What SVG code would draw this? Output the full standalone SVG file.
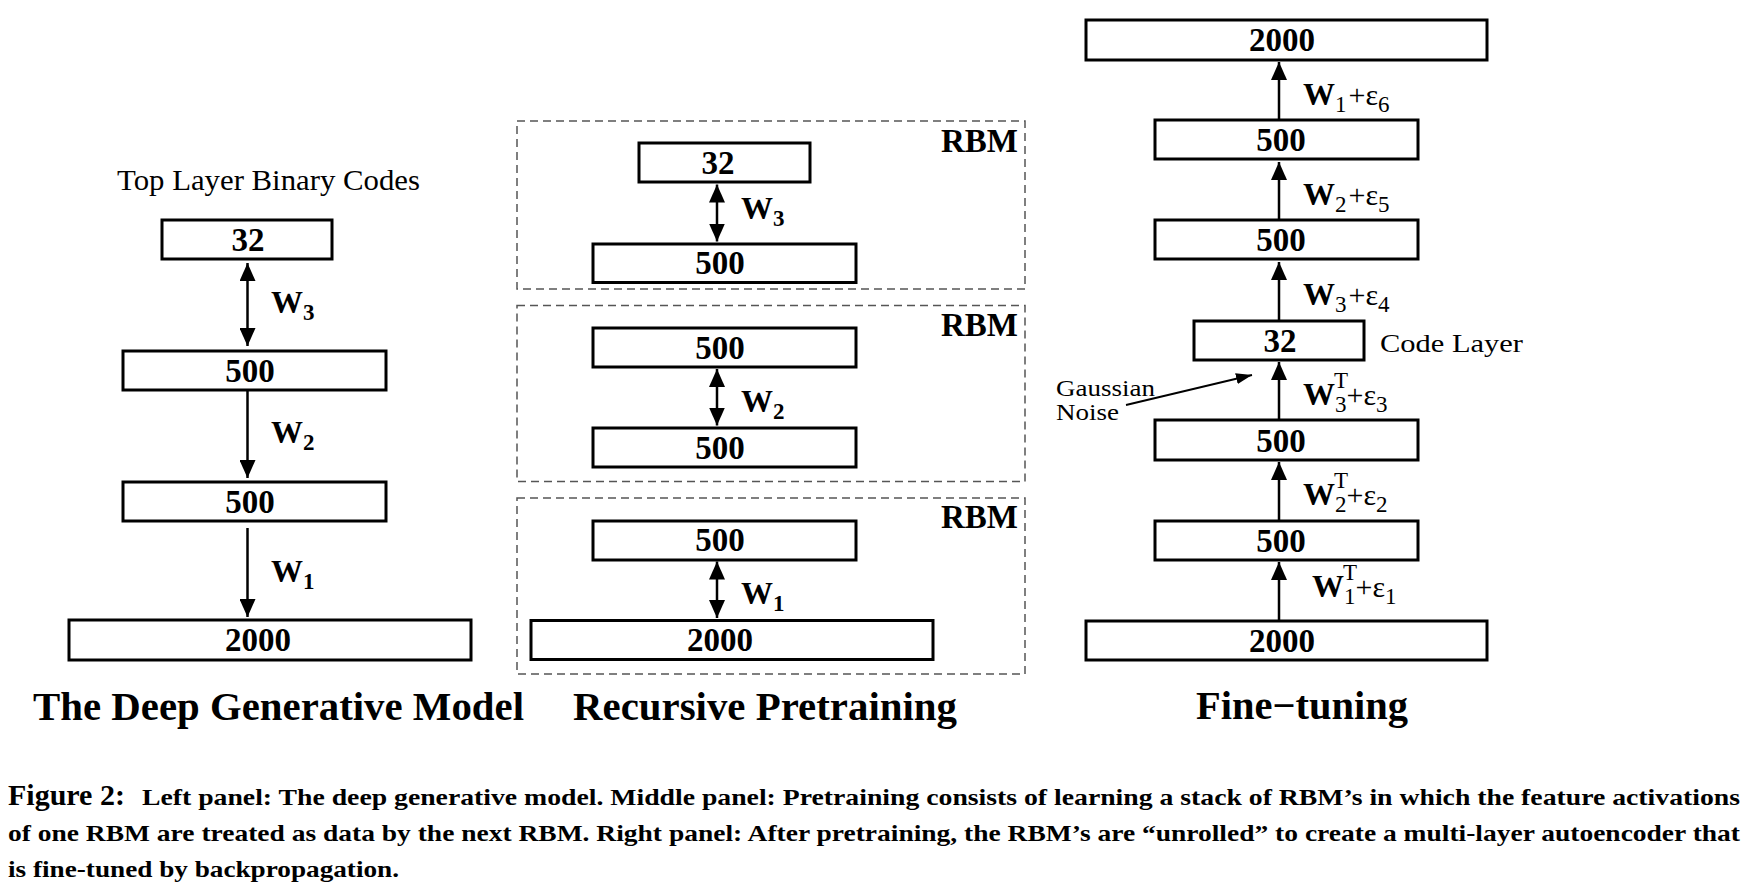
<svg xmlns="http://www.w3.org/2000/svg" width="1750" height="890" viewBox="0 0 1750 890">
  <style>
    text { font-family: "Liberation Serif", "Times New Roman", serif; fill: #000; }
    .layer { fill: #fff; stroke: #000; stroke-width: 3; }
    .num { font-size: 33px; font-weight: bold; text-anchor: middle; }
    .w { font-size: 32px; font-weight: bold; }
    .sub { font-size: 23px; }
    .eps { font-size: 30px; font-weight: normal; }
    .rbm { font-size: 33px; font-weight: bold; }
    .frame { fill: none; stroke: #555; stroke-width: 1.5; stroke-dasharray: 8 5; }
    .title { font-size: 40px; font-weight: bold; }
    .note { font-size: 29px; }
    .edge { stroke: #000; stroke-width: 2.5; fill: none; }
    .thin { stroke: #000; stroke-width: 1.8; fill: none; }
    .cap { font-size: 24px; font-weight: bold; }
  </style>
  <defs>
    <marker id="head" viewBox="0 0 18 16" refX="18" refY="8" markerWidth="18" markerHeight="16" markerUnits="userSpaceOnUse" orient="auto-start-reverse">
      <path d="M0,0 L18,8 L0,16 z" fill="#000"/>
    </marker>
    <marker id="headSmall" viewBox="0 0 16 11" refX="16" refY="5.5" markerWidth="16" markerHeight="11" markerUnits="userSpaceOnUse" orient="auto">
      <path d="M0,0 L16,5.5 L0,11 z" fill="#000"/>
    </marker>
  </defs>

  <!-- Left panel: the deep generative model -->
  <g id="left-panel">
    <text class="note" x="117" y="190" textLength="303" lengthAdjust="spacingAndGlyphs">Top Layer Binary Codes</text>
    <g id="gen-32"><rect class="layer" x="162" y="220" width="170" height="39"/><text class="num" x="248" y="251">32</text></g>
    <g id="gen-500a"><rect class="layer" x="123" y="351" width="263" height="39"/><text class="num" x="250" y="382">500</text></g>
    <g id="gen-500b"><rect class="layer" x="123" y="482" width="263" height="39"/><text class="num" x="250" y="513">500</text></g>
    <g id="gen-2000"><rect class="layer" x="69" y="620" width="402" height="40"/><text class="num" x="258" y="651">2000</text></g>
    <text class="w" x="271" y="313">W<tspan class="sub" font-weight="bold" dy="7">3</tspan></text>
    <text class="w" x="271" y="443">W<tspan class="sub" font-weight="bold" dy="7">2</tspan></text>
    <text class="w" x="271" y="582">W<tspan class="sub" font-weight="bold" dy="7">1</tspan></text>
    <text class="title" x="33" y="720" textLength="491" lengthAdjust="spacingAndGlyphs">The Deep Generative Model</text>
  </g>

  <!-- Middle panel: stacked RBMs -->
  <g id="middle-panel">
    <g id="rbm-3">
      <rect class="frame" x="517" y="121" width="508" height="168"/>
      <text class="rbm" x="941" y="152" textLength="77" lengthAdjust="spacingAndGlyphs">RBM</text>
    </g>
    <g id="rbm-2">
      <rect class="frame" x="517" y="305.5" width="508" height="176"/>
      <text class="rbm" x="941" y="336" textLength="77" lengthAdjust="spacingAndGlyphs">RBM</text>
    </g>
    <g id="rbm-1">
      <rect class="frame" x="517" y="498" width="508" height="176"/>
      <text class="rbm" x="941" y="528" textLength="77" lengthAdjust="spacingAndGlyphs">RBM</text>
    </g>
    <g id="pre-32"><rect class="layer" x="639" y="143" width="171" height="39"/><text class="num" x="718" y="174">32</text></g>
    <g id="pre-500d"><rect class="layer" x="593" y="244" width="263" height="38.5"/><text class="num" x="720" y="274">500</text></g>
    <g id="pre-500c"><rect class="layer" x="593" y="328" width="263" height="39"/><text class="num" x="720" y="359">500</text></g>
    <g id="pre-500b"><rect class="layer" x="593" y="428" width="263" height="39"/><text class="num" x="720" y="459">500</text></g>
    <g id="pre-500a"><rect class="layer" x="593" y="521" width="263" height="39"/><text class="num" x="720" y="551">500</text></g>
    <g id="pre-2000"><rect class="layer" x="531" y="620.5" width="402" height="39"/><text class="num" x="720" y="651">2000</text></g>
    <text class="w" x="741" y="219">W<tspan class="sub" font-weight="bold" dy="7">3</tspan></text>
    <text class="w" x="741" y="412">W<tspan class="sub" font-weight="bold" dy="7">2</tspan></text>
    <text class="w" x="741" y="604">W<tspan class="sub" font-weight="bold" dy="7">1</tspan></text>
    <text class="title" x="573" y="720" textLength="384" lengthAdjust="spacingAndGlyphs">Recursive Pretraining</text>
  </g>

  <!-- Right panel: unrolled autoencoder -->
  <g id="right-panel">
    <g id="ft-2000-out"><rect class="layer" x="1086" y="20" width="401" height="40"/><text class="num" x="1282" y="51">2000</text></g>
    <g id="ft-500d"><rect class="layer" x="1155" y="120" width="263" height="39"/><text class="num" x="1281" y="151">500</text></g>
    <g id="ft-500c"><rect class="layer" x="1155" y="220" width="263" height="39"/><text class="num" x="1281" y="251">500</text></g>
    <g id="ft-32"><rect class="layer" x="1194" y="321" width="170" height="39"/><text class="num" x="1280" y="352">32</text></g>
    <g id="ft-500b"><rect class="layer" x="1155" y="420" width="263" height="40"/><text class="num" x="1281" y="452">500</text></g>
    <g id="ft-500a"><rect class="layer" x="1155" y="521" width="263" height="39"/><text class="num" x="1281" y="552">500</text></g>
    <g id="ft-2000-in"><rect class="layer" x="1086" y="621" width="401" height="39"/><text class="num" x="1282" y="652">2000</text></g>

    <text class="w" x="1303" y="105">W<tspan class="sub" font-weight="normal" dy="7">1</tspan><tspan class="eps" dx="2" dy="-7">+ε</tspan><tspan class="sub" font-weight="normal" dy="7">6</tspan></text>
    <text class="w" x="1303" y="205">W<tspan class="sub" font-weight="normal" dy="7">2</tspan><tspan class="eps" dx="2" dy="-7">+ε</tspan><tspan class="sub" font-weight="normal" dy="7">5</tspan></text>
    <text class="w" x="1303" y="305">W<tspan class="sub" font-weight="normal" dy="7">3</tspan><tspan class="eps" dx="2" dy="-7">+ε</tspan><tspan class="sub" font-weight="normal" dy="7">4</tspan></text>

    <text class="w" x="1303" y="405">W<tspan class="sub" font-weight="normal" dy="7">3</tspan><tspan class="eps" dy="-7">+ε</tspan><tspan class="sub" font-weight="normal" dy="7">3</tspan></text>
    <text class="sub" x="1334" y="388">T</text>
    <text class="w" x="1303" y="505">W<tspan class="sub" font-weight="normal" dy="7">2</tspan><tspan class="eps" dy="-7">+ε</tspan><tspan class="sub" font-weight="normal" dy="7">2</tspan></text>
    <text class="sub" x="1334" y="488">T</text>
    <text class="w" x="1312" y="597">W<tspan class="sub" font-weight="normal" dy="7">1</tspan><tspan class="eps" dy="-7">+ε</tspan><tspan class="sub" font-weight="normal" dy="7">1</tspan></text>
    <text class="sub" x="1343" y="580">T</text>

    <text x="1380" y="352" font-size="26" textLength="143" lengthAdjust="spacingAndGlyphs">Code Layer</text>
    <text x="1056" y="396" font-size="24" textLength="99" lengthAdjust="spacingAndGlyphs">Gaussian</text>
    <text x="1056" y="420" font-size="24" textLength="63" lengthAdjust="spacingAndGlyphs">Noise</text>
    <text class="title" x="1196" y="719" textLength="212" lengthAdjust="spacingAndGlyphs">Fine−tuning</text>
  </g>

  <!-- Connectors -->
  <g id="connectors">
    <line class="edge" x1="247.5" y1="263" x2="247.5" y2="346" marker-start="url(#head)" marker-end="url(#head)"/>
    <line class="edge" x1="247.5" y1="390" x2="247.5" y2="478" marker-end="url(#head)"/>
    <line class="edge" x1="247.5" y1="528" x2="247.5" y2="617" marker-end="url(#head)"/>

    <line class="edge" x1="717" y1="184.5" x2="717" y2="241.5" marker-start="url(#head)" marker-end="url(#head)"/>
    <line class="edge" x1="717" y1="369" x2="717" y2="425.5" marker-start="url(#head)" marker-end="url(#head)"/>
    <line class="edge" x1="717" y1="561.5" x2="717" y2="618" marker-start="url(#head)" marker-end="url(#head)"/>

    <line class="edge" x1="1279" y1="120" x2="1279" y2="62" marker-end="url(#head)"/>
    <line class="edge" x1="1279" y1="220" x2="1279" y2="162" marker-end="url(#head)"/>
    <line class="edge" x1="1279" y1="321" x2="1279" y2="262" marker-end="url(#head)"/>
    <line class="edge" x1="1279" y1="420" x2="1279" y2="362" marker-end="url(#head)"/>
    <line class="edge" x1="1279" y1="521" x2="1279" y2="462" marker-end="url(#head)"/>
    <line class="edge" x1="1279" y1="621" x2="1279" y2="562" marker-end="url(#head)"/>

    <line class="thin" x1="1126" y1="405" x2="1252" y2="375" marker-end="url(#headSmall)"/>
  </g>

  <!-- Caption -->
  <g id="caption">
    <text x="8" y="805" font-size="30" font-weight="bold">Figure 2:</text>
    <text class="cap" x="142" y="805" textLength="1598" lengthAdjust="spacingAndGlyphs">Left panel: The deep generative model. Middle panel: Pretraining consists of learning a stack of RBM’s in which the feature activations</text>
    <text class="cap" x="8" y="841" textLength="1732" lengthAdjust="spacingAndGlyphs">of one RBM are treated as data by the next RBM. Right panel: After pretraining, the RBM’s are “unrolled” to create a multi-layer autoencoder that</text>
    <text class="cap" x="8" y="877" textLength="391" lengthAdjust="spacingAndGlyphs">is fine-tuned by backpropagation.</text>
  </g>
</svg>
